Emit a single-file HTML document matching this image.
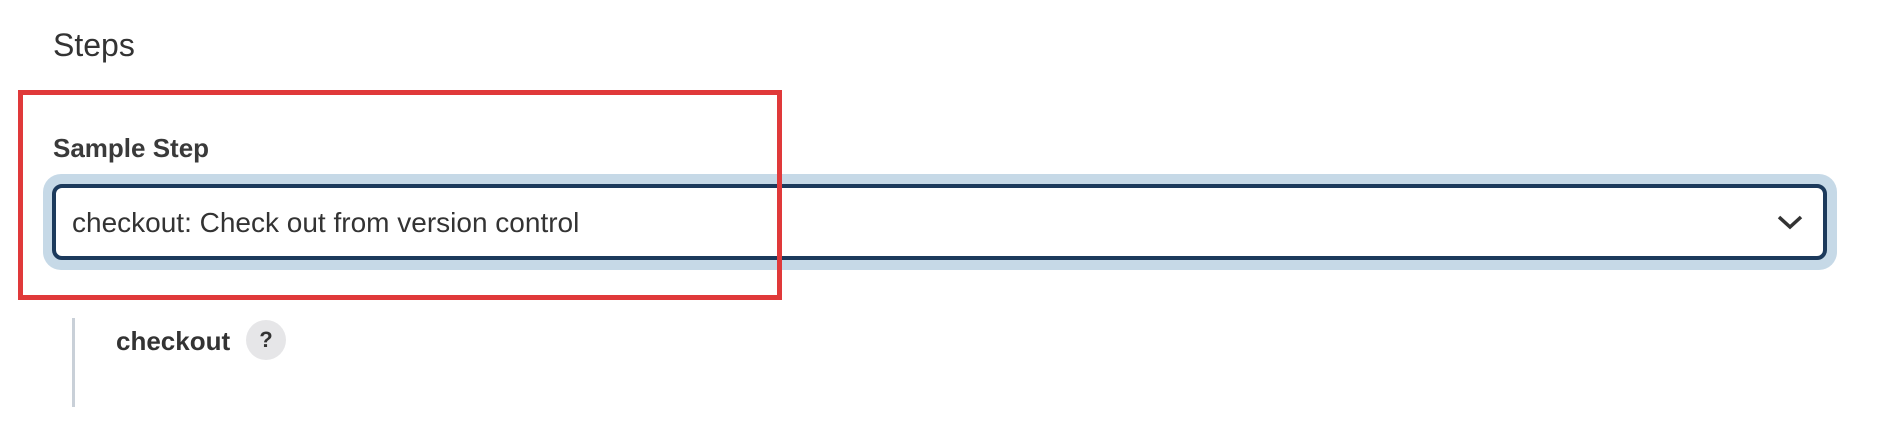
<!DOCTYPE html>
<html><head><style>
body{margin:0;width:1884px;height:434px;background:#fff;position:relative;overflow:hidden;font-family:"Liberation Sans",sans-serif;color:#333}
.a{position:absolute}
</style></head><body>
<div class="a" style="left:53px;top:25px;font-size:32px;line-height:40px;color:#333">Steps</div>
<div class="a" style="left:53px;top:131px;font-size:26px;line-height:34px;color:#3a3a3a;font-weight:bold">Sample Step</div>
<div class="a" style="left:43px;top:174px;width:1794px;height:96px;border-radius:18px;background:#c6d9e7"></div>
<div class="a" style="left:52px;top:184px;width:1767px;height:68px;border:4px solid #1c3a5c;border-radius:10px;background:#fff"></div>
<div class="a" style="left:72px;top:206px;font-size:28px;line-height:34px;color:#333">checkout: Check out from version control</div>
<svg class="a" style="left:1776px;top:214px" width="28" height="18"><polyline points="3,3 14,13 25,3" fill="none" stroke="#333" stroke-width="3.5"/></svg>
<div class="a" style="left:18px;top:90px;width:754px;height:200px;border:5px solid #e0393a;z-index:5"></div>
<div class="a" style="left:72px;top:318px;width:3px;height:89px;background:#c9d0d8"></div>
<div class="a" style="left:116px;top:325px;font-size:26px;line-height:32px;font-weight:bold;color:#333">checkout</div>
<div class="a" style="left:246px;top:320px;width:40px;height:40px;border-radius:50%;background:#e6e6e8;font-weight:bold;font-size:22px;line-height:40px;text-align:center;color:#333">?</div>
</body></html>
